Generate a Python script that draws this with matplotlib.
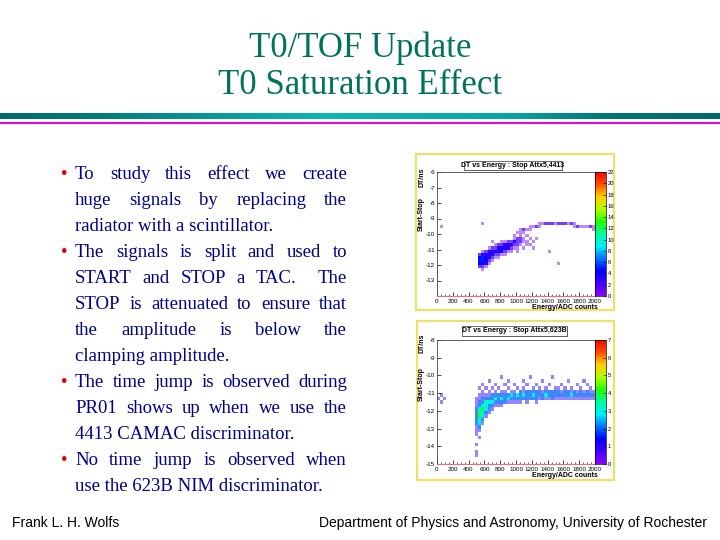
import numpy as np
import matplotlib
matplotlib.use("Agg")
import matplotlib.pyplot as plt
from matplotlib.colors import LinearSegmentedColormap, ListedColormap, Normalize
from matplotlib.cm import ScalarMappable
from matplotlib.patches import Rectangle
from matplotlib.ticker import MultipleLocator, FixedLocator

plt.rcParams["axes.unicode_minus"] = False

W, H = 720, 540

title_lines = ["T0/TOF Update", "T0 Saturation Effect"]

bullet_items = [
    ["To study this effect we create",
     "huge signals by replacing the",
     "radiator with a scintillator."],
    ["The signals is split and used to",
     "START and STOP a TAC.  The",
     "STOP is attenuated to ensure that",
     "the amplitude is below the",
     "clamping amplitude."],
    ["The time jump is observed during",
     "PR01 shows up when we use the",
     "4413 CAMAC discriminator."],
    ["No time jump is observed when",
     "use the 623B NIM discriminator."],
]

footer_left = "Frank L. H. Wolfs"
footer_right = "Department of Physics and Astronomy, University of Rochester"

# histogram 1: DT vs energy, 4413 discriminator
h1_title = "DT vs Energy : Stop Attx5,4413"
h1_xbins = np.linspace(0, 2000, 51)
h1_ybins = np.linspace(-14, -6, 41)
h1_yticks = [-6, -7, -8, -9, -10, -11, -12, -13]
h1_zmax = 22
h1_ztick = 2
h1_top = -9.2  # dt of upper edge of first row
h1_rows = [
    ".........." + "....1....." + ".........." + "..11222122" + "2121......",
    ".1........" + ".........." + ".........1" + "121......." + "...1211121",
    ".........." + ".........." + "......1211" + ".........." + ".........1",
    ".........." + ".........." + ".....111.." + ".........." + "..........",
    ".........." + ".........." + "....1.1.1." + ".........." + "..........",
    ".........." + ".........." + "....1221.1" + ".1........" + "..........",
    ".........." + ".......1.." + "112232211." + "1........." + "..........",
    ".........." + "........12" + "2333221.11" + ".........." + "..........",
    ".........." + "......1223" + "433211.1.." + "1........." + "..........",
    ".........." + "....123343" + "3211.1...." + ".....1...." + "..........",
    ".........." + "...2333322" + "11........" + ".........." + "..........",
    ".........." + "...4543211" + ".........." + ".........." + "..........",
    ".........." + "...55421.." + ".........." + ".........." + "..........",
    ".........." + "...4431..." + ".........." + "........1." + "..........",
    ".........." + "...221...." + ".........." + ".........." + "..........",
    ".........." + "....1....." + ".........." + ".........." + "..........",
]

# histogram 2: DT vs energy, 623B discriminator
h2_title = "DT vs Energy : Stop Attx5,623B"
h2_xbins = np.linspace(0, 2000, 51)
h2_ybins = np.linspace(-15, -8, 36)
h2_yticks = [-8, -9, -10, -11, -12, -13, -14, -15]
h2_zmax = 7
h2_ztick = 1
h2_top = -10.0
h2_rows = [
    ".........." + ".........." + "1........1" + "......1..." + "..........",
    ".........." + "......1..." + "..1....1.." + "...1......" + ".1....1...",
    ".........." + "....1...1." + ".1..1...1." + ".1...1...1" + "....1..1..",
    ".........." + "...1.1.1.1" + "..1..1.1.." + "1.1.1..11." + "1.1..1..1.",
    ".........." + "....1.1.1." + "11.11.2122" + "2221222221" + "2212121211",
    ".1........" + "...1111222" + "2223232322" + "3222322222" + "2232222222",
    "1.1......." + "..11222232" + "3232222222" + "2212112111" + "1111111111",
    ".1........" + "..12233322" + "2211111.1." + ".1........" + "..........",
    ".........." + "..12332211" + "1........." + ".........." + "..........",
    ".........." + "..234321.." + ".........." + ".........." + "..........",
    ".........." + "..24321..." + ".........." + ".........." + "..........",
    ".........." + "..2431...." + ".........." + ".........." + "..........",
    ".........." + "..232....." + ".........." + ".........." + "..........",
    ".........." + "..231....." + ".........." + ".........." + "..........",
    ".........." + "..12......" + ".........." + ".........." + "..........",
    ".........." + "..11......" + ".........." + ".........." + "..........",
    ".........." + "..1......." + ".........." + ".........." + "..........",
    ".........." + "...1......" + ".........." + ".........." + "..........",
    ".........." + ".........." + ".........." + ".........." + "..........",
    ".........." + "..1......." + ".........." + ".........." + "..........",
    ".........." + ".........." + ".........." + ".........." + "..........",
    ".........." + "..1......." + ".........." + ".........." + "..........",
    ".........." + "..1......." + ".........." + ".........." + "..........",
]

root_cmap = LinearSegmentedColormap.from_list("root", [
    (0.0, "#9000ff"), (0.1, "#4000ff"), (0.2, "#0000ff"), (0.3, "#0070ff"),
    (0.4, "#00f0ff"), (0.5, "#00ffa0"), (0.6, "#20ff00"), (0.7, "#b0ff00"),
    (0.8, "#ffd000"), (0.9, "#ff5000"), (1.0, "#ff0000")])

TEXT_BLUE = "#000088"
TEAL = "#00735f"


def display_cmap(zmax):
    # sparse single-count cells look washed out in the original screenshot
    cols = []
    for v in np.linspace(0, 1, 256):
        r, g, b, _ = root_cmap(v)
        cols.append((r, g, b, min(1.0, 0.2 + 0.28 * v * zmax)))
    return ListedColormap(cols)


def grid_points(rows, top, xbins, ybins):
    dx = xbins[1] - xbins[0]
    dy = ybins[1] - ybins[0]
    xs, ys, ws = [], [], []
    for i, row in enumerate(rows):
        for j, ch in enumerate(row):
            if ch != ".":
                xs.append(xbins[0] + (j + 0.5) * dx)
                ys.append(top - (i + 0.5) * dy)
                ws.append(int(ch))
    return np.array(xs), np.array(ys), np.array(ws)


def px_rect(x0, y0, x1, y1):
    return [x0 / W, 1 - y1 / H, (x1 - x0) / W, (y1 - y0) / H]


fig = plt.figure(figsize=(7.2, 5.4), dpi=100)
bg = fig.add_axes([0, 0, 1, 1])
bg.set_xlim(0, W)
bg.set_ylim(H, 0)
bg.axis("off")

# title
for k, line in enumerate(title_lines):
    bg.text(360, 57 + 37 * k, line, ha="center", va="baseline",
            family="Liberation Serif", fontsize=25, color=TEAL)

# header rule
bar_cmap = LinearSegmentedColormap.from_list("bar", [
    (0.0, "#006a6a"), (0.12, "#007a78"), (0.45, "#10b4b4"),
    (0.7, "#0aa6a6"), (0.85, "#007474"), (1.0, "#006a6a")])
bg.imshow(np.linspace(0, 1, 256)[None, :], extent=[0, W, 119, 113],
          aspect="auto", cmap=bar_cmap, zorder=1)
bg.add_patch(Rectangle((0, 121.7), W, 2.4, color="#ee00ee", lw=0, zorder=1))
bg.set_xlim(0, W)
bg.set_ylim(H, 0)

# bullet text
renderer = fig.canvas.get_renderer()
txt_kw = dict(family="Liberation Serif", fontsize=13.5, color=TEXT_BLUE,
              va="baseline")
x_left, x_right = 75, 347
y = 179
for item in bullet_items:
    bg.text(64, y, "\u2022", ha="center", va="baseline",
            family="Liberation Serif", fontsize=13.5, color="#e00000")
    for n, line in enumerate(item):
        if n == len(item) - 1:
            bg.text(x_left, y, line, **txt_kw)
        else:
            words = line.split(" ")
            widths = []
            for w in words:
                if w:
                    t = bg.text(0, 0, w, **txt_kw)
                    widths.append(t.get_window_extent(renderer).width)
                    t.remove()
                else:
                    widths.append(0.0)
            gap = (x_right - x_left - sum(widths)) / (len(words) - 1)
            x = x_left
            for w, wd in zip(words, widths):
                if w:
                    bg.text(x, y, w, **txt_kw)
                x += wd + gap
        y += 26

# footer
bg.text(12, 527, footer_left, family="Liberation Sans", fontsize=10,
        color="black", va="baseline")
bg.text(707, 527, footer_right, family="Liberation Sans", fontsize=10,
        color="black", va="baseline", ha="right")


def draw_hist(panel, axes_px, title_box, rows, top, xbins, ybins, yticks,
              zmax, ztick, title, ylab_pos):
    bg.add_patch(Rectangle((panel[0], panel[1]), panel[2] - panel[0],
                           panel[3] - panel[1], fill=False,
                           edgecolor="#f2de6a", lw=1.6, zorder=2))
    x0, y0, x1, y1 = axes_px
    ax = fig.add_axes(px_rect(x0, y0, x1, y1))
    xs, ys, ws = grid_points(rows, top, xbins, ybins)
    ax.hist2d(xs, ys, bins=[xbins, ybins], weights=ws,
              cmap=display_cmap(zmax), vmin=0, vmax=zmax, cmin=0.5)
    ax.set_xlim(xbins[0], xbins[-1])
    ax.set_ylim(ybins[0], ybins[-1])
    ax.xaxis.set_major_locator(MultipleLocator(200))
    ax.xaxis.set_minor_locator(MultipleLocator(50))
    ax.yaxis.set_major_locator(FixedLocator(yticks))
    ax.tick_params(direction="in", length=3, width=0.5, labelsize=4.5,
                   pad=1.5, top=False, right=False)
    ax.tick_params(axis="x", pad=2.5)
    ax.tick_params(which="minor", direction="in", length=1.5, width=0.4)
    for lab in ax.get_xticklabels() + ax.get_yticklabels():
        lab.set_family("Liberation Sans")
    for side in ["left", "top"]:
        ax.spines[side].set_linewidth(0.6)
        ax.spines[side].set_color("#444444")
    for side in ["bottom", "right"]:
        ax.spines[side].set_linewidth(0.9)
        ax.spines[side].set_color("#d87878")

    cax = fig.add_axes(px_rect(x1, y0, x1 + 11, y1))
    sm = ScalarMappable(norm=Normalize(0, zmax), cmap=root_cmap)
    cb = fig.colorbar(sm, cax=cax, ticks=np.arange(0, zmax + 0.1, ztick))
    cb.outline.set_linewidth(0.5)
    cax.tick_params(direction="in", length=2, width=0.4, labelsize=4.2,
                    pad=1)
    for lab in cax.get_yticklabels():
        lab.set_family("Liberation Sans")

    # axis titles
    bg.text(x1 + 3, y1 + 13, "Energy/ADC counts", ha="right",
            va="baseline", family="Liberation Sans", fontweight="bold",
            fontsize=5.0)
    bg.text(421.5, ylab_pos[0], "Start-Stop", rotation=90, ha="center",
            va="center", family="Liberation Sans", fontweight="bold",
            fontsize=5.0)
    bg.text(421.5, ylab_pos[1], "DT/ns", rotation=90, ha="center",
            va="center", family="Liberation Sans", fontweight="bold",
            fontsize=5.0)

    # title box with shadow
    tx0, ty0, tx1, ty1 = title_box
    bg.add_patch(Rectangle((tx0 + 1.2, ty0 + 1.2), tx1 - tx0, ty1 - ty0,
                           facecolor="#888888", lw=0, zorder=5))
    bg.add_patch(Rectangle((tx0, ty0), tx1 - tx0, ty1 - ty0,
                           facecolor="white", edgecolor="#333333", lw=0.5,
                           zorder=6))
    fig.text((tx0 + tx1) / 2 / W, 1 - (ty0 + ty1) / 2 / H, title,
             ha="center", va="center", family="Liberation Sans",
             fontweight="bold", fontsize=5.0, zorder=7)
    return ax


ax1 = draw_hist((416, 154, 614, 310), (437, 172, 595, 296),
                (464, 161, 562, 170), h1_rows, h1_top, h1_xbins, h1_ybins,
                h1_yticks, h1_zmax, h1_ztick, h1_title, (214, 177))
ax2 = draw_hist((417, 321, 614, 480), (437, 340, 595, 464),
                (462, 326, 567, 336), h2_rows, h2_top, h2_xbins, h2_ybins,
                h2_yticks, h2_zmax, h2_ztick, h2_title, (384, 343))

fig.savefig("out.png", dpi=100)
